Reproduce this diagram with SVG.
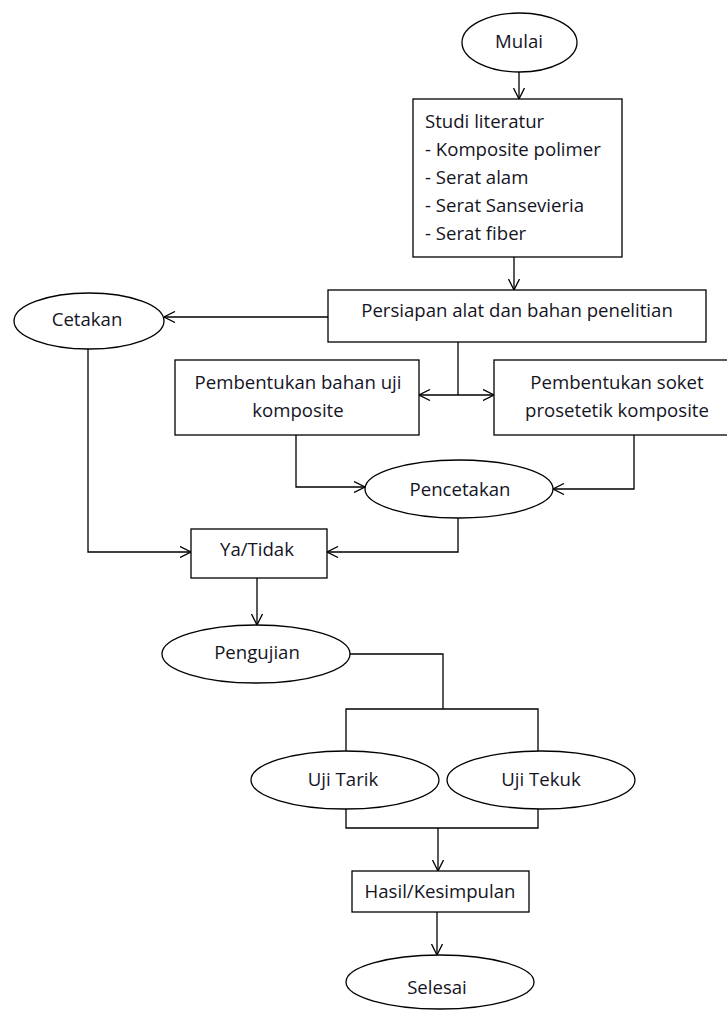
<svg xmlns="http://www.w3.org/2000/svg" width="727" height="1010" viewBox="0 0 727 1010">
<style>
.n{fill:#fff;stroke:#000;stroke-width:1.3}
.t{font-family:"Open Sans","Noto Sans",sans-serif;font-size:18.6px;fill:#14141f}
.c{text-anchor:middle}
.l{fill:none;stroke:#000;stroke-width:1.3}
</style>
<defs>
<marker id="a" viewBox="0 0 12 12" refX="11.5" refY="6" markerWidth="12" markerHeight="12" markerUnits="userSpaceOnUse" orient="auto">
<path d="M0.5,0.5 L11.5,6 L0.5,11.5" fill="none" stroke="#000" stroke-width="1.3"/>
</marker>
</defs>
<rect width="727" height="1010" fill="#fff"/>
<g id="connectors">
<path class="l" d="M519,72 L519,99" marker-end="url(#a)"/>
<path class="l" d="M514,257 L514,290" marker-end="url(#a)"/>
<path class="l" d="M328,317 L164,317" marker-end="url(#a)"/>
<path class="l" d="M458,342 L458,395"/>
<path class="l" d="M458,395 L419,395" marker-end="url(#a)"/>
<path class="l" d="M458,395 L494,395" marker-end="url(#a)"/>
<path class="l" d="M296,435 L296,487 L365,487" marker-end="url(#a)"/>
<path class="l" d="M634,435 L634,489 L553,489" marker-end="url(#a)"/>
<path class="l" d="M88,349 L88,552 L191,552" marker-end="url(#a)"/>
<path class="l" d="M458,518 L458,552 L327,552" marker-end="url(#a)"/>
<path class="l" d="M257,578 L257,625" marker-end="url(#a)"/>
<path class="l" d="M350,654 L443,654 L443,709"/>
<path class="l" d="M346,751 L346,709 L538,709 L538,751"/>
<path class="l" d="M346,809 L346,828 L538,828 L538,809"/>
<path class="l" d="M438,828 L438,871" marker-end="url(#a)"/>
<path class="l" d="M437,912 L437,955" marker-end="url(#a)"/>
</g>
<g id="mulai"><ellipse class="n" cx="519.5" cy="42.5" rx="57.5" ry="29.5"/><text class="t c" x="519" y="47.5">Mulai</text></g>
<g id="studi"><rect class="n" x="413" y="99" width="209" height="158"/>
<text class="t" x="425" y="128">Studi literatur</text>
<text class="t" x="425" y="156">- Komposite polimer</text>
<text class="t" x="425" y="184">- Serat alam</text>
<text class="t" x="425" y="212">- Serat Sansevieria</text>
<text class="t" x="425" y="240">- Serat fiber</text></g>
<g id="persiapan"><rect class="n" x="328" y="290" width="378" height="52"/><text class="t c" x="517" y="317">Persiapan alat dan bahan penelitian</text></g>
<g id="cetakan"><ellipse class="n" cx="89" cy="321" rx="75" ry="28"/><text class="t c" x="87" y="326">Cetakan</text></g>
<g id="bahanuji"><rect class="n" x="175" y="360" width="244" height="75"/><text class="t c" x="298" y="389">Pembentukan bahan uji</text><text class="t c" x="298" y="417">komposite</text></g>
<g id="soket"><rect class="n" x="494" y="360" width="240" height="75"/><text class="t c" x="617" y="389">Pembentukan soket</text><text class="t c" x="617" y="417">prosetetik komposite</text></g>
<g id="pencetakan"><ellipse class="n" cx="459" cy="489" rx="94" ry="29"/><text class="t c" x="460" y="496">Pencetakan</text></g>
<g id="yatidak"><rect class="n" x="191" y="529" width="136" height="49"/><text class="t c" x="257" y="556">Ya/Tidak</text></g>
<g id="pengujian"><ellipse class="n" cx="256" cy="654" rx="94" ry="29"/><text class="t c" x="257" y="659">Pengujian</text></g>
<g id="ujitarik"><ellipse class="n" cx="345" cy="780" rx="94" ry="29"/><text class="t c" x="343" y="786">Uji Tarik</text></g>
<g id="ujitekuk"><ellipse class="n" cx="541" cy="780" rx="94" ry="29"/><text class="t c" x="541" y="786">Uji Tekuk</text></g>
<g id="hasil"><rect class="n" x="352" y="871" width="177" height="41"/><text class="t c" x="440" y="898">Hasil/Kesimpulan</text></g>
<g id="selesai"><ellipse class="n" cx="440" cy="982" rx="94" ry="27"/><text class="t c" x="437" y="994">Selesai</text></g>
</svg>
